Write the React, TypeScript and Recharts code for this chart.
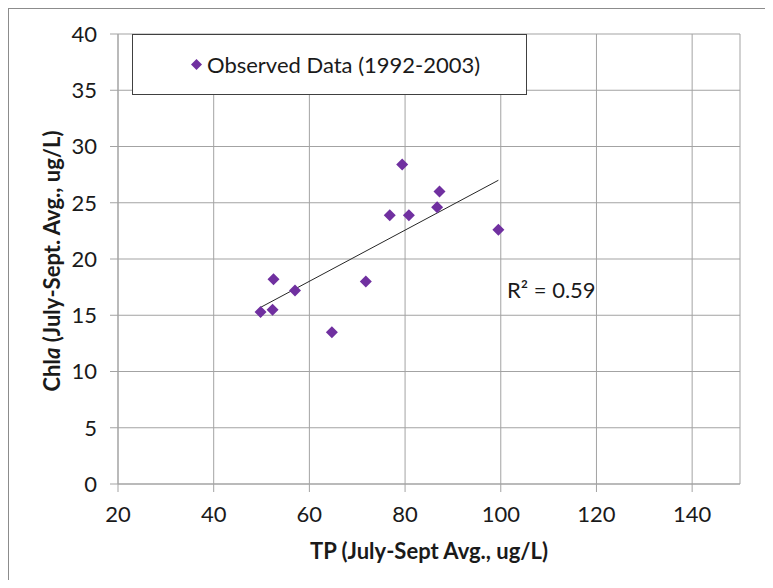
import {
  ScatterChart,
  Scatter,
  XAxis,
  YAxis,
  CartesianGrid,
  ReferenceLine,
  ReferenceDot,
  Legend,
} from "recharts";

// TP vs Chla, July-Sept averages
const tpValues = [49.8, 52.3, 52.5, 57.0, 64.7, 71.8, 76.8, 79.4, 80.8, 86.7, 87.2, 99.5];
const chlaValues = [15.3, 15.5, 18.2, 17.2, 13.5, 18.0, 23.9, 28.4, 23.9, 24.6, 26.0, 22.6];

// linear trendline endpoints as drawn
const trendTp = [49.8, 99.5];
const trendChla = [15.7, 27.0];

const xTicks = [20, 40, 60, 80, 100, 120, 140];
const yTicks = [0, 5, 10, 15, 20, 25, 30, 35, 40];
const rSquaredText = "R² = 0.59";
const seriesName = "Observed Data (1992-2003)";

const observed = tpValues.map((tp, i) => ({ tp, chla: chlaValues[i] }));

const FONT = "Lato, 'Open Sans', sans-serif";
const GRID = "#a3a3a3";
const PURPLE = "#7030A0";
const TEXT = "#1a1a1a";

const Diamond = (props: any) => {
  const { cx, cy } = props;
  const r = 6;
  return (
    <polygon
      points={`${cx},${cy - r} ${cx + r},${cy} ${cx},${cy + r} ${cx - r},${cy}`}
      fill={PURPLE}
    />
  );
};

const LegendBox = () => (
  <div
    style={{
      boxSizing: "border-box",
      width: 395,
      height: 61,
      border: "1px solid #404040",
      background: "#fff",
      position: "relative",
      fontFamily: FONT,
      fontSize: 22,
      color: TEXT,
    }}
  >
    <svg style={{ position: "absolute", left: 58, top: 24 }} width={11} height={11}>
      <polygon points="5.5,0 11,5.5 5.5,11 0,5.5" fill={PURPLE} />
    </svg>
    <span style={{ position: "absolute", left: 74, top: 0, lineHeight: "59px" }}>
      {seriesName}
    </span>
  </div>
);

const App = () => {
  return (
    <div style={{ position: "relative", width: 757, height: 572, overflow: "hidden" }}>
      <div
        style={{
          position: "absolute",
          left: 0,
          top: 0,
          width: 800,
          height: 620,
          border: "1px solid #8c8c8c",
        }}
      />
      <ScatterChart
        width={757}
        height={572}
        margin={{ top: 26, right: 25, bottom: 0, left: 0 }}
        style={{ position: "absolute", left: 0, top: 0 }}
      >
        <CartesianGrid stroke={GRID} strokeWidth={1} />
        <XAxis
          type="number"
          dataKey="tp"
          domain={[20, 150]}
          ticks={xTicks}
          height={96}
          stroke={GRID}
          tickSize={8}
          tickMargin={14}
          tick={{ fill: TEXT, fontSize: 22, fontFamily: FONT }}
          allowDataOverflow
          label={{
            content: () => (
              <text
                x={421}
                y={551}
                textAnchor="middle"
                fontFamily={FONT}
                fontSize={22}
                fontWeight="bold"
                fill={TEXT}
              >
                TP (July-Sept Avg., ug/L)
              </text>
            ),
          }}
        />
        <YAxis
          type="number"
          dataKey="chla"
          domain={[0, 40]}
          ticks={yTicks}
          width={110}
          stroke={GRID}
          tickSize={8}
          tickMargin={13}
          tick={{ fill: TEXT, fontSize: 22, fontFamily: FONT }}
          label={{
            content: () => (
              <text
                x={52}
                y={253}
                transform="rotate(-90 52 253)"
                textAnchor="middle"
                fontFamily={FONT}
                fontSize={22}
                fontWeight="bold"
                fill={TEXT}
              >
                Chl<tspan fontStyle="italic">a</tspan> (July-Sept. Avg., ug/L)
              </text>
            ),
          }}
        />
        <Legend
          layout="horizontal"
          verticalAlign="middle"
          align="center"
          wrapperStyle={{ left: 124, top: 26, width: 395, height: 61 }}
          content={() => <LegendBox />}
        />
        <ReferenceLine
          segment={[
            { x: trendTp[0], y: trendChla[0] },
            { x: trendTp[1], y: trendChla[1] },
          ]}
          stroke="#262626"
          strokeWidth={1}
        />
        <Scatter
          name={seriesName}
          data={observed}
          fill={PURPLE}
          shape={Diamond}
          isAnimationActive={false}
        />
        <ReferenceDot
          x={101.3}
          y={17.3}
          r={0}
          stroke="none"
          label={{
            content: (p: any) => (
              <text
                x={p.viewBox.x}
                y={p.viewBox.y}
                dominantBaseline="central"
                fontFamily={FONT}
                fontSize={22}
                fill={TEXT}
              >
                {rSquaredText}
              </text>
            ),
          }}
        />
      </ScatterChart>
    </div>
  );
};

export default App;
